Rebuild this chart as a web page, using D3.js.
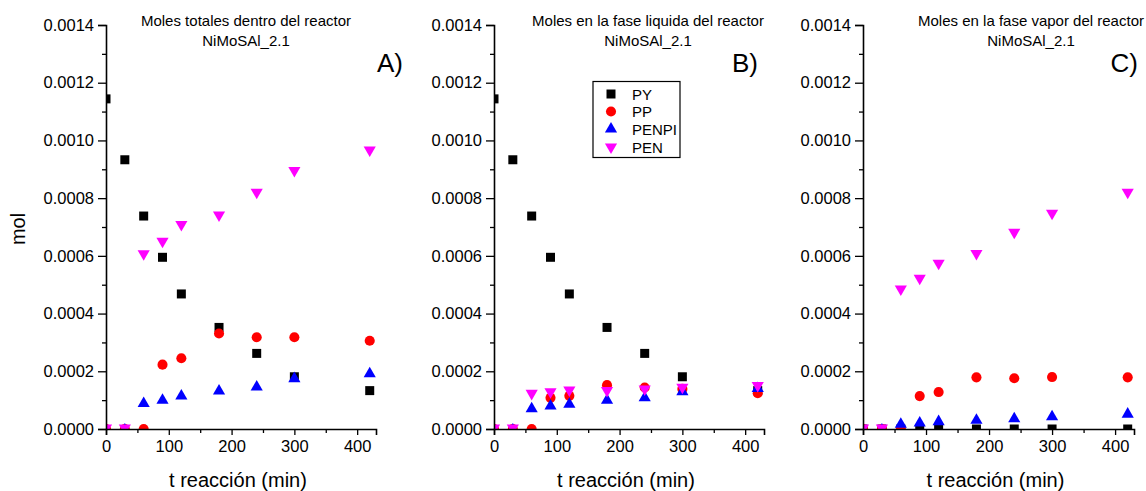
<!DOCTYPE html>
<html><head><meta charset="utf-8">
<script src="https://cdn.jsdelivr.net/npm/d3@7"></script>
<style>
body{margin:0;background:#fff;}
svg{display:block;font-family:"Liberation Sans",Arial,sans-serif;}
</style></head>
<body>
<svg id="c" width="1146" height="491"></svg>
<script>
// ---------- DATA ----------
const times = [0, 30, 60, 90, 120, 180, 240, 300, 420];
const seriesNames = ["PY", "PP", "PENPI", "PEN"];
const seriesColors = ["#000000", "#ff0000", "#0000ff", "#ff00ff"];

// Panel A: total moles
const totalPY    = [0.001144, 0.000933, 0.000738, 0.000595, 0.000468, 0.000352, 0.000262, 0.000181, 0.000133];
const totalPP    = [0, 0, 0, 0.000223, 0.000245, 0.000331, 0.000318, 0.000318, 0.000306];
const totalPENPI = [0, 0, 0.000092, 0.000103, 0.000118, 0.000135, 0.000149, 0.000178, 0.000195];
const totalPEN   = [0, 0, 0.000604, 0.000647, 0.000705, 0.000738, 0.000817, 0.000892, 0.000963];

// Panel B: liquid phase
const liqPY    = [0.001144, 0.000933, 0.000738, 0.000595, 0.000468, 0.000352, 0.000262, 0.000181, 0.000133];
const liqPP    = [0, 0, 0, 0.000108, 0.000115, 0.000152, 0.000144, 0.000139, 0.000124];
const liqPENPI = [0, 0, 0.000074, 0.000083, 0.000089, 0.000103, 0.000112, 0.000133, 0.000144];
const liqPEN   = [0, 0, 0.000120, 0.000126, 0.000132, 0.000130, 0.000135, 0.000141, 0.000147];

// Panel C: vapor phase
const vapPY    = [0, 0, 0, 0, 0, 0, 0, 0, 0];
const vapPP    = [0, 0, 0, 0.000114, 0.000128, 0.000179, 0.000176, 0.000180, 0.000179];
const vapPENPI = [0, 0, 0.000020, 0.000024, 0.000029, 0.000034, 0.000039, 0.000046, 0.000055];
const vapPEN   = [0, 0, 0.000482, 0.000519, 0.000571, 0.000605, 0.000678, 0.000744, 0.000817];

const titles = ["Moles totales dentro del reactor", "Moles en la fase liquida del reactor", "Moles en la fase vapor del reactor"];
const subtitle = "NiMoSAl_2.1";
const panelLabels = ["A)", "B)", "C)"];
const yTicks = [0, 0.0002, 0.0004, 0.0006, 0.0008, 0.0010, 0.0012, 0.0014];
const xTicks = [0, 100, 200, 300, 400];
const xLabel = "t reacción (min)";
const yLabel = "mol";

const panelData = [
  [totalPY, totalPP, totalPENPI, totalPEN],
  [liqPY, liqPP, liqPENPI, liqPEN],
  [vapPY, vapPP, vapPENPI, vapPEN]
];

// ---------- LAYOUT ----------
const layout = [
  {left: 106, right: 376, titleX: 246, labelRight: 403},
  {left: 494, right: 764, titleX: 648, labelRight: 758},
  {left: 863, right: 1134, titleX: 1031, labelRight: 1138}
];
const plotTop = 25, plotBottom = 429;

const svg = d3.select("#c");
const symbols = [d3.symbolSquare, d3.symbolCircle, d3.symbolTriangle, d3.symbolTriangle];
const symSizes = [81, 80, 64, 64];
const symRot = [0, 0, 0, 180];

function sym(i) { return d3.symbol().type(symbols[i]).size(symSizes[i])(); }

layout.forEach((L, p) => {
  const x = d3.scaleLinear().domain([0, 430]).range([L.left, L.right]);
  const y = d3.scaleLinear().domain([0, 0.0014]).range([plotBottom, plotTop]);
  const g = svg.append("g");

  // clip
  svg.append("clipPath").attr("id", "clip" + p).append("rect")
    .attr("x", L.left).attr("y", plotTop - 10).attr("width", L.right - L.left + 10).attr("height", plotBottom - plotTop + 10);

  // markers
  const mg = g.append("g").attr("clip-path", `url(#clip${p})`);
  panelData[p].forEach((vals, si) => {
    mg.selectAll(null).data(times.map((t, i) => [t, vals[i]])).enter()
      .append("path")
      .attr("d", sym(si))
      .attr("fill", seriesColors[si])
      .attr("transform", d => {
        const dy = si === 2 ? 1 : (si === 3 ? -1 : 0);
        return `translate(${x(d[0])},${y(d[1]) + dy}) rotate(${symRot[si]})`;
      });
  });

  // y axis
  const ya = d3.axisLeft(y).tickValues(yTicks).tickFormat(d3.format(".4f")).tickSize(8).tickPadding(4);
  const yAxisG = g.append("g").attr("transform", `translate(${L.left},0)`).call(ya);
  yAxisG.selectAll("text").attr("font-size", 16.5).attr("fill", "#000").attr("font-family", "Liberation Sans, Arial, sans-serif");
  const yMinor = d3.range(0.0001, 0.0014, 0.0002);
  g.append("g").attr("transform", `translate(${L.left},0)`)
    .call(d3.axisLeft(y).tickValues(yMinor).tickSize(4).tickFormat(""))
    .select(".domain").remove();

  // x axis
  const xa = d3.axisBottom(x).tickValues(xTicks).tickFormat(d3.format("d")).tickSize(6).tickPadding(5);
  const xAxisG = g.append("g").attr("transform", `translate(0,${plotBottom})`).call(xa);
  xAxisG.selectAll("text").attr("font-size", 16.5).attr("fill", "#000").attr("font-family", "Liberation Sans, Arial, sans-serif");
  g.append("g").attr("transform", `translate(0,${plotBottom})`)
    .call(d3.axisBottom(x).tickValues([50, 150, 250, 350]).tickSize(4).tickFormat(""))
    .select(".domain").remove();

  g.selectAll(".domain").attr("stroke", "#000").attr("stroke-width", 1.6);
  g.selectAll(".tick line").attr("stroke", "#000").attr("stroke-width", 1.3);

  // x label
  g.append("text").attr("x", (L.left + L.right) / 2 - 3).attr("y", 487)
    .attr("text-anchor", "middle").attr("font-size", 20).text(xLabel);

  // titles
  g.append("text").attr("x", L.titleX).attr("y", 26).attr("text-anchor", "middle")
    .attr("font-size", 15).text(titles[p]);
  g.append("text").attr("x", L.titleX).attr("y", 46).attr("text-anchor", "middle")
    .attr("font-size", 15).text(subtitle);

  // panel label
  g.append("text").attr("x", L.labelRight).attr("y", 72).attr("text-anchor", "end")
    .attr("font-size", 26).text(panelLabels[p]);

  if (p === 0) {
    g.append("text").attr("transform", `translate(25,229) rotate(-90)`)
      .attr("text-anchor", "middle").attr("font-size", 20).text(yLabel);
  }

  if (p === 1) {
    const lg = g.append("g");
    lg.append("rect").attr("x", 593).attr("y", 81.5).attr("width", 87).attr("height", 76)
      .attr("fill", "#fff").attr("stroke", "#000").attr("stroke-width", 1.2);
    const rows = [94, 111.5, 129, 147];
    seriesNames.forEach((n, si) => {
      lg.append("path").attr("d", sym(si)).attr("fill", seriesColors[si])
        .attr("transform", `translate(611,${rows[si]}) rotate(${symRot[si]})`);
      lg.append("text").attr("x", 632).attr("y", rows[si] + 5.5).attr("font-size", 15).text(n);
    });
  }
});
</script>
</body></html>
